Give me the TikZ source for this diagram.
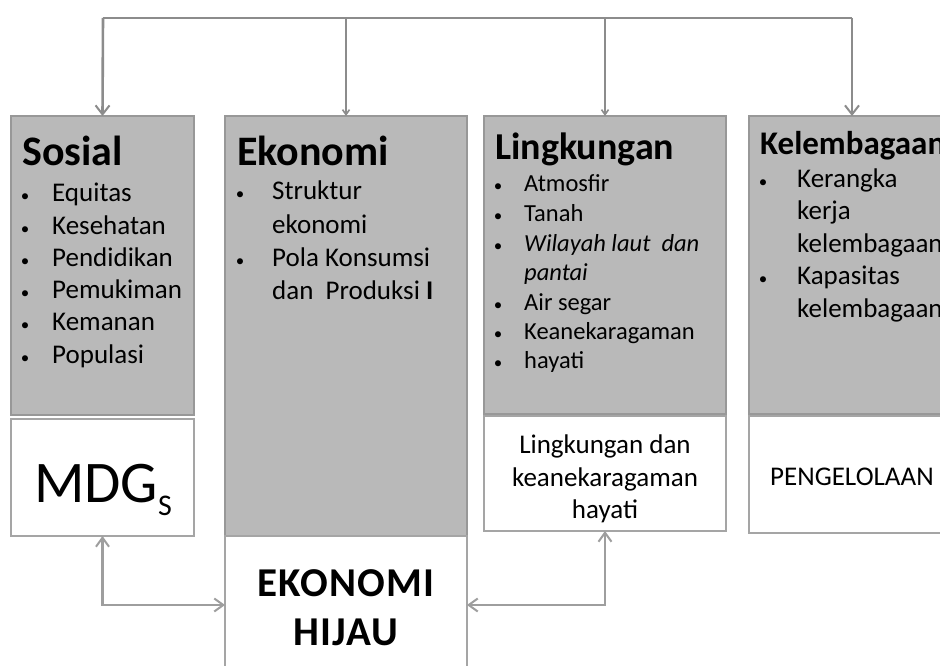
\documentclass[tikz,border=0pt]{standalone}
\usepackage{fontspec}
\setmainfont{Carlito}
\newfontfamily\spacedbold[LetterSpace=3]{Carlito}
\usetikzlibrary{arrows.meta}
\definecolor{boxgray}{RGB}{185,185,185}
\definecolor{edgegray}{RGB}{152,152,152}
\definecolor{linegray}{RGB}{140,140,140}
\definecolor{arrgray}{RGB}{158,158,158}
\definecolor{wedgegray}{RGB}{165,165,165}
\begin{document}
\begin{tikzpicture}[x=1pt,y=-1pt,
  graybox/.style={draw=edgegray, line width=2pt, fill=boxgray, inner sep=0pt, outer sep=0pt},
  whitebox/.style={draw=wedgegray, line width=2pt, fill=white, inner sep=0pt, outer sep=0pt},
  bigtitle/.style={anchor=base west, inner sep=0pt, font=\bfseries\fontsize{42}{42}\selectfont},
  itemtext/.style={anchor=base west, inner sep=0pt, font=\fontsize{27}{27}\selectfont},
  smalltext/.style={anchor=base west, inner sep=0pt, font=\fontsize{24.5}{24.5}\selectfont},
  dot/.style={anchor=base, inner sep=0pt, font=\fontsize{17}{17}\selectfont},
  topline/.style={draw=linegray, line width=2.6pt},
  toparrow/.style={draw=linegray, line width=2.6pt, -{Straight Barb[length=9pt,width=14pt,line width=2pt]}},
  midarrow/.style={draw=linegray, line width=1.8pt, -{Straight Barb[length=5pt,width=7pt,line width=1.6pt]}},
  botarrow/.style={draw=arrgray, line width=2.2pt, {Straight Barb[length=9pt,width=13pt,line width=2pt]}-{Straight Barb[length=9pt,width=13pt,line width=2pt]}},
  centertext/.style={anchor=base, inner sep=0pt, font=\fontsize{27}{27}\selectfont},
  hijau/.style={anchor=base, inner sep=0pt, font=\spacedbold\bfseries\fontsize{41}{41}\selectfont}
]
\clip (0,0) rectangle (940,666);
\fill[white] (0,0) rectangle (940,666);

% boxes
\node[graybox, minimum width=183pt, minimum height=299pt] (sos) at (102.5,265.5) {};
\node[whitebox, minimum width=183pt, minimum height=117pt] (mdg) at (102.5,477.5) {};
\node[graybox, minimum width=242pt, minimum height=420pt] (eko) at (346,326) {};
\node[whitebox, minimum width=242pt, minimum height=170pt] (ekw) at (346,621) {};
\node[graybox, minimum width=242pt, minimum height=298pt] (lin) at (605,265) {};
\node[whitebox, minimum width=242pt, minimum height=115pt] (linw) at (605,473.5) {};
\node[graybox, minimum width=242pt, minimum height=298pt] (kel) at (870,265) {};
\node[whitebox, minimum width=242pt, minimum height=117pt] (kelw) at (870,474.5) {};

% Sosial
\node[bigtitle] (sost) at (22,165) {Sosial};
\foreach \t [count=\i] in {Equitas,Kesehatan,Pendidikan,Pemukiman,Kemanan,Populasi} {
  \node[itemtext] (si\i) at (52,{201.7+(\i-1)*32.3}) {\t};
  \node[dot] (sb\i) at (25,{201.7+(\i-1)*32.3}) {\textbullet};
}

% Ekonomi
\node[bigtitle] (ekot) at (237,165) {Ekonomi};
\node[dot] (eb1) at (240,200) {\textbullet};
\node[itemtext] (ei1) at (272,200) {Struktur};
\node[itemtext] (ei2) at (272,233) {ekonomi};
\node[dot] (eb3) at (240,266) {\textbullet};
\node[itemtext] (ei3) at (272,266) {Pola Konsumsi};
\node[itemtext] (ei4) at (272,299) {dan\hspace{0.45em}Produksi \textbf{I}};

% Lingkungan
\node[bigtitle, font=\bfseries\fontsize{38}{38}\selectfont] (lint) at (495,160) {Lingkungan};
\node[dot] (lb1) at (498,191.7) {\textbullet};
\node[smalltext] (li1) at (524,191.7) {Atmosfir};
\node[dot] (lb2) at (498,221.7) {\textbullet};
\node[smalltext] (li2) at (524,221.7) {Tanah};
\node[dot] (lb3) at (498,251.7) {\textbullet};
\node[smalltext] (li3) at (524,251.7) {\itshape Wilayah laut\hspace{0.45em}dan};
\node[smalltext] (li4) at (524,280.5) {\itshape pantai};
\node[dot] (lb5) at (498,310) {\textbullet};
\node[smalltext] (li5) at (524,310) {Air segar};
\node[dot] (lb6) at (498,339) {\textbullet};
\node[smalltext] (li6) at (524,339) {Keanekaragaman};
\node[dot] (lb7) at (498,368) {\textbullet};
\node[smalltext] (li7) at (524,368) {hayati};

% Kelembagaan
\node[bigtitle, font=\bfseries\fontsize{33}{33}\selectfont] (kelt) at (760,154) {Kelembagaan};
\node[dot] (kb1) at (763,187) {\textbullet};
\node[itemtext] (ki1) at (797,187) {Kerangka};
\node[itemtext] (ki2) at (797,219.5) {kerja};
\node[itemtext] (ki3) at (797,252) {kelembagaan};
\node[dot] (kb4) at (763,284.5) {\textbullet};
\node[itemtext] (ki4) at (797,284.5) {Kapasitas};
\node[itemtext] (ki5) at (797,317) {kelembagaan};

% white box texts
\node[anchor=base, inner sep=0pt, font=\fontsize{59}{59}\selectfont] (mdgt) at (103,502) {MDG\raisebox{-13pt}{\fontsize{30}{30}\selectfont S}};
\node[hijau] (eh1) at (346,596.5) {EKONOMI};
\node[hijau] (eh2) at (346,645) {HIJAU};
\node[centertext] (lw1) at (605,453) {Lingkungan dan};
\node[centertext] (lw2) at (605,486) {keanekaragaman};
\node[centertext] (lw3) at (605,518) {hayati};
\node[itemtext, font=\fontsize{27}{27}\selectfont] (peng) at (770,485) {PENGELOLAAN};

% top connectors
\coordinate (tl) at (103,18);
\coordinate (tr) at (852,18);
\draw[topline] (tl) -- (tr);
\draw[toparrow] (tl) -- (sos.north);
\draw[toparrow] (tr) -- (tr |- kel.north);
\draw[midarrow] (eko.north |- tl) -- (eko.north);
\draw[midarrow] (lin.north |- tl) -- (lin.north);

% bottom connectors
\coordinate (by) at (0,605);
\draw[botarrow] (mdg.south) |- (ekw.west |- by);
\draw[botarrow] (linw.south) |- (ekw.east |- by);
\end{tikzpicture}
\end{document}
